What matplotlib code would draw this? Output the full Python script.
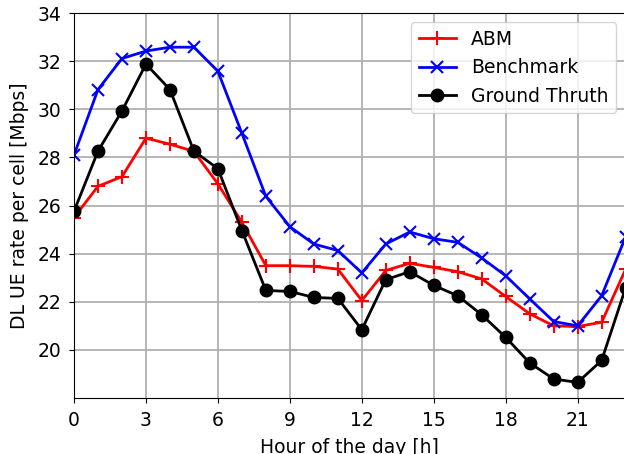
import matplotlib
matplotlib.use('Agg')
import matplotlib.pyplot as plt

# Данни по часове
hours = list(range(24))
abm = [25.5, 26.8, 27.2, 28.8, 28.55, 28.25, 26.9, 25.3, 23.5, 23.5, 23.47, 23.36,
       22.05, 23.3, 23.6, 23.43, 23.25, 22.95, 22.22, 21.5, 21.0, 20.97, 21.15, 23.35]
benchmark = [28.1, 30.82, 32.11, 32.42, 32.58, 32.58, 31.58, 29.0, 26.38, 25.12, 24.4, 24.13,
             23.2, 24.4, 24.9, 24.62, 24.47, 23.82, 23.08, 22.12, 21.18, 21.0, 22.25, 24.7]
ground_truth = [25.76, 28.26, 29.93, 31.88, 30.82, 28.26, 27.53, 24.96, 22.47, 22.43, 22.18, 22.14,
                20.84, 22.92, 23.25, 22.68, 22.25, 21.46, 20.52, 19.46, 18.79, 18.65, 19.56, 22.58]
xticks = [0, 3, 6, 9, 12, 15, 18, 21]
yticks = [20, 22, 24, 26, 28, 30, 32, 34]

fig = plt.figure(figsize=(6.24, 4.54), dpi=100)
ax = fig.add_axes([0.1186, 0.1233, 0.884, 0.848])

ax.plot(hours, abm, color='red', marker='+', lw=2, ms=10, mew=1.5, label='ABM')
ax.plot(hours, benchmark, color='blue', marker='x', lw=2, ms=9, mew=1.5, label='Benchmark')
ax.plot(hours, ground_truth, color='black', marker='o', lw=2, ms=9, label='Ground Thruth')

ax.set_xlim(0, 23)
ax.set_ylim(18, 34)
ax.set_xticks(xticks)
ax.set_yticks(yticks)
ax.tick_params(labelsize=13.5, pad=5.5)
ax.grid(True, color='#b0b0b0', lw=1.3)
ax.set_xlabel('Hour of the day [h]', fontsize=13.5, labelpad=6)
ax.set_ylabel('DL UE rate per cell [Mbps]', fontsize=13.5, labelpad=6)
ax.legend(loc='upper right', fontsize=13.5)

fig.savefig('out.png', dpi=100)
